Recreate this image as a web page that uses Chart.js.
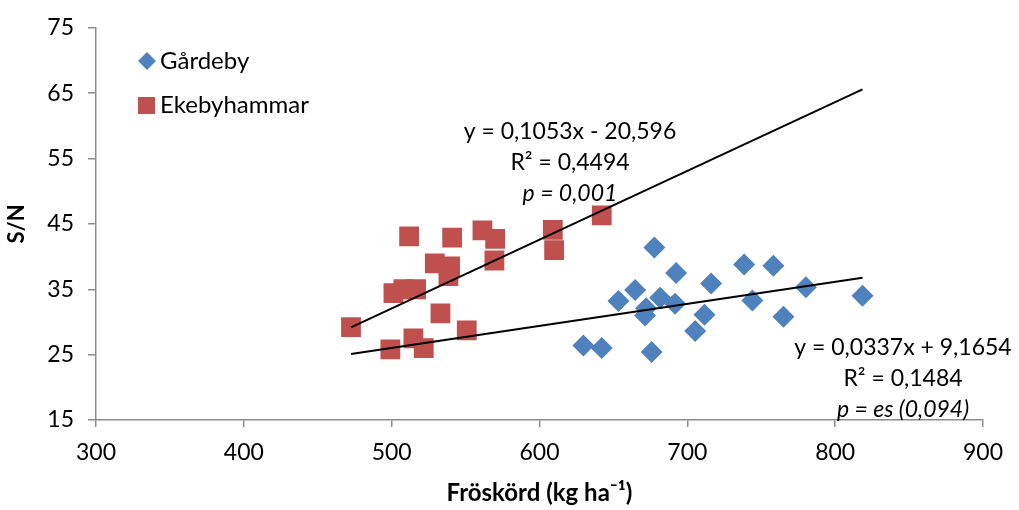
<!DOCTYPE html>
<html>
<head>
<meta charset="utf-8">
<script src="https://cdn.jsdelivr.net/npm/chart.js@4.4.1/dist/chart.umd.min.js"></script>
<style>
    html, body { margin: 0; padding: 0; background: #fff; }
    #wrap { width: 1019px; height: 510px; }
</style>
</head>
<body>
<div id="wrap"><canvas id="chart"></canvas></div>
<script>
//Series (x = Fröskörd, y = S/N)
const gardebyX = [677.7, 692.4, 664.7, 653.4, 681.6, 691.7, 672.1, 671.4, 716.1, 738.4,
                  758.2, 780.2, 744.0, 711.6, 705.3, 765.0, 675.9, 642.1, 818.5, 629.7];
const gardebyY = [41.4, 37.5, 34.9, 33.2, 33.7, 32.8, 32.1, 31.0, 35.9, 38.8,
                  38.6, 35.3, 33.3, 31.1, 28.6, 30.8, 25.4, 26.0, 34.0, 26.4];

const ekebyX = [472.5, 511.8, 540.9, 561.4, 570.0, 609.0, 642.1, 609.9, 569.5, 529.2,
                539.5, 538.4, 501.2, 507.9, 516.5, 533.0, 499.1, 514.7, 521.7, 550.8];
const ekebyY = [29.2, 43.1, 42.9, 44.0, 42.7, 44.1, 46.3, 41.0, 39.4, 38.95,
                38.5, 37.0, 34.4, 35.0, 35.0, 31.3, 25.8, 27.5, 26.0, 28.7];

//Trend line end points
const trendX = [472.5, 818.5];
const gardebyTrendY = [25.09, 36.75];
const ekebyTrendY = [29.16, 65.59];

const seriesNames = ['Gårdeby', 'Ekebyhammar'];
const gardebyText = ['y = 0,0337x + 9,1654', 'R² = 0,1484', 'p = es (0,094)'];
const ekebyText = ['y = 0,1053x - 20,596', 'R² = 0,4494', 'p = 0,001'];

const xTitle = 'Fröskörd (kg ha⁻¹)';
const yTitle = 'S/N';

const FONT = 'Lato, "Open Sans", sans-serif';
const BLUE = '#4F81BD';
const RED = '#C0504D';
const AXIS = '#8c8c8c';

function toPoints(xs, ys) {
    return xs.map(function (x, i) {
        return {x: x, y: ys[i]};
    });
}

/**
 * Draws the legend in the upper left of the plot and the regression texts.
 */
const labelsPlugin = {
    id: 'labels',
    afterDraw: function (chart) {
        const ctx = chart.ctx;
        ctx.save();

        //legend
        ctx.fillStyle = BLUE;
        ctx.beginPath();
        ctx.moveTo(138, 61);
        ctx.lineTo(147, 52);
        ctx.lineTo(156, 61);
        ctx.lineTo(147, 70);
        ctx.closePath();
        ctx.fill();
        ctx.fillStyle = RED;
        ctx.fillRect(138, 97, 17, 17);

        ctx.fillStyle = '#000';
        ctx.font = '24px ' + FONT;
        ctx.textAlign = 'left';
        ctx.textBaseline = 'middle';
        ctx.fillText(seriesNames[0], 160, 61);
        ctx.fillText(seriesNames[1], 160, 105);

        //regression texts
        ctx.textAlign = 'center';
        const blocks = [[ekebyText, 570, 132], [gardebyText, 903, 348]];
        blocks.forEach(function (b) {
            b[0].forEach(function (line, i) {
                ctx.font = (i === 2 ? 'italic ' : '') + '23px ' + FONT;
                ctx.fillText(line, b[1], b[2] + i * 31);
            });
        });
        ctx.restore();
    }
};

const config = {
    type: 'scatter',
    data: {
        datasets: [{
            label: 'trend Ekebyhammar',
            data: toPoints(trendX, ekebyTrendY),
            showLine: true,
            borderColor: '#000',
            borderWidth: 2,
            pointRadius: 0
        }, {
            label: 'trend Gårdeby',
            data: toPoints(trendX, gardebyTrendY),
            showLine: true,
            borderColor: '#000',
            borderWidth: 2,
            pointRadius: 0
        }, {
            label: seriesNames[1],
            data: toPoints(ekebyX, ekebyY),
            pointStyle: 'rect',
            pointRadius: 14,
            backgroundColor: RED,
            borderColor: RED,
            borderWidth: 0
        }, {
            label: seriesNames[0],
            data: toPoints(gardebyX, gardebyY),
            pointStyle: 'rectRot',
            pointRadius: 11,
            backgroundColor: BLUE,
            borderColor: BLUE,
            borderWidth: 0
        }]
    },
    options: {
        responsive: true,
        maintainAspectRatio: false,
        animation: false,
        layout: {padding: {left: 0, right: 36, top: 23, bottom: 0}},
        plugins: {
            legend: {display: false},
            tooltip: {enabled: false}
        },
        scales: {
            x: {
                type: 'linear',
                min: 300,
                max: 900,
                ticks: {stepSize: 100, color: '#000', font: {family: FONT, size: 23}, padding: 12},
                grid: {drawOnChartArea: false, drawTicks: true, tickLength: 7, color: AXIS, lineWidth: 1.5},
                border: {color: AXIS, width: 1.5},
                title: {display: true, text: xTitle, color: '#000', font: {family: FONT, size: 24, weight: 'bold'}, padding: {top: 2, bottom: 2}},
                afterFit: function (scale) { scale.height = 90; }
            },
            y: {
                type: 'linear',
                min: 15,
                max: 75,
                ticks: {stepSize: 10, color: '#000', font: {family: FONT, size: 23}, padding: 14},
                grid: {drawOnChartArea: false, drawTicks: true, tickLength: 8, color: AXIS, lineWidth: 1.5},
                border: {color: AXIS, width: 1.5},
                title: {display: true, text: yTitle, color: '#000', font: {family: FONT, size: 22, weight: 'bold'}, padding: {top: 4, bottom: 0}},
                afterFit: function (scale) { scale.width = 96; }
            }
        }
    },
    plugins: [labelsPlugin]
};

window.onload = function () {
    window.myChart = new Chart(document.getElementById('chart').getContext('2d'), config);
};
</script>
</body>
</html>
